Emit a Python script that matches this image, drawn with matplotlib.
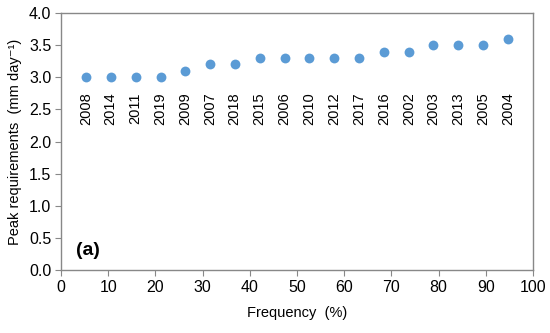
import matplotlib
matplotlib.use("Agg")
import matplotlib.pyplot as plt

plt.rcParams['font.family'] = ['Liberation Sans', 'DejaVu Sans']

# data
frequency = [5.3, 10.5, 15.8, 21.1, 26.3, 31.6, 36.8, 42.1, 47.4, 52.6,
             57.9, 63.2, 68.4, 73.7, 78.9, 84.2, 89.5, 94.7]
peak = [3.0, 3.0, 3.0, 3.0, 3.1, 3.2, 3.2, 3.3, 3.3, 3.3,
        3.3, 3.3, 3.4, 3.4, 3.5, 3.5, 3.5, 3.6]
years = ['2008', '2014', '2011', '2019', '2009', '2007', '2018', '2015', '2006',
         '2010', '2012', '2017', '2016', '2002', '2003', '2013', '2005', '2004']

fig = plt.figure(figsize=(5.5, 3.33), dpi=100)
ax = fig.add_axes([0.111, 0.189, 0.858, 0.772])

ax.scatter(frequency, peak, s=50, color='#5B9BD5', zorder=3, linewidths=0)

# year labels under each point
for x, yr in zip(frequency, years):
    ax.text(x, 2.51, yr, rotation=90, ha='center', va='center', fontsize=10.5)

ax.text(3.2, 0.31, '(a)', fontsize=14, fontweight='bold', va='center')

ax.set_xlim(0, 100)
ax.set_ylim(0, 4.0)
ax.set_xticks(range(0, 101, 10))
ax.set_yticks([i * 0.5 for i in range(9)])
ax.set_yticklabels([f'{i * 0.5:.1f}' for i in range(9)])
ax.tick_params(labelsize=11.5, color='#888888', direction='out', length=4, pad=3)

for sp in ax.spines.values():
    sp.set_color('#888888')
    sp.set_linewidth(1.0)

ax.set_xlabel('Frequency  (%)', fontsize=10.5, labelpad=8)
ax.set_ylabel('Peak requirements  (mm day\u207b\u00b9)', fontsize=10.5, labelpad=5)

fig.savefig('out.png', dpi=100)
